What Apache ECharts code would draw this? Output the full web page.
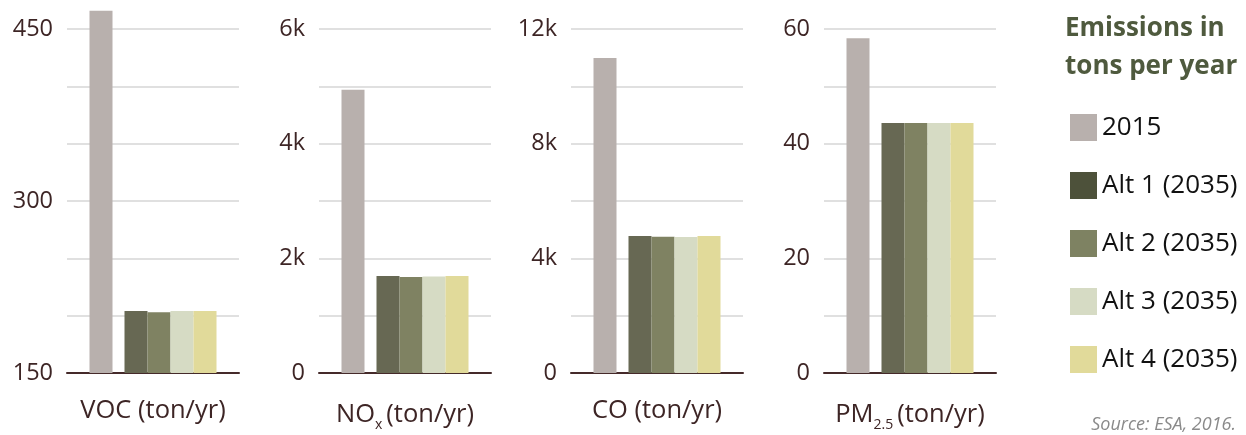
<!DOCTYPE html>
<html>
<head>
<meta charset="utf-8">
<script src="https://cdn.jsdelivr.net/npm/echarts@6/dist/echarts.min.js"></script>
<style>
html,body{margin:0;padding:0;background:#fff;}
#c{width:1246px;height:435px;}
</style>
</head>
<body>
<div id="c"></div>
<script>
// ---- data ----
const pollutants = ['VOC (ton/yr)', 'NOx (ton/yr)', 'CO (ton/yr)', 'PM2.5 (ton/yr)'];
const pollutantLabels = ['VOC (ton/yr)', 'NO{sub|x}(ton/yr)', 'CO (ton/yr)', 'PM{sub|2.5}(ton/yr)'];
const seriesNames = ['2015', 'Alt 1 (2035)', 'Alt 2 (2035)', 'Alt 3 (2035)', 'Alt 4 (2035)'];
const v2015 = [466, 4940, 10990, 58.4];
const alt1 = [204, 1690, 4780, 43.6];
const alt2 = [203, 1675, 4750, 43.6];
const alt3 = [204, 1685, 4740, 43.6];
const alt4 = [204, 1690, 4780, 43.6];
const axisMin = [150, 0, 0, 0];
const axisMax = [450, 6000, 12000, 60];
const axisStep = [50, 1000, 2000, 10];
const tickLabels = [
  [150, 300, 450],
  [0, 2000, 4000, 6000],
  [0, 4000, 8000, 12000],
  [0, 20, 40, 60]
];
const kFormat = [false, true, true, false];

const barColors = ['#b8b0ad', '#676853', '#7f8262', '#d6dbc4', '#e1da9a'];
const legendColors = ['#b8b0ad', '#4d513a', '#7e8262', '#d6dbc4', '#e1da9a'];
const allValues = [v2015, alt1, alt2, alt3, alt4];

const FONT = '"Open Sans", "Noto Sans", sans-serif';
const textCol = '#3d2525';
const gridLefts = [67, 319, 571, 824];

const grids = [], xAxes = [], yAxes = [], series = [];
pollutants.forEach((p, i) => {
  grids.push({left: gridLefts[i], top: 29, width: 172, height: 344, containLabel: false});
  xAxes.push({
    type: 'category', gridIndex: i, data: [p],
    axisLine: {show: true, lineStyle: {color: '#452a2a', width: 2}},
    axisTick: {show: false},
    axisLabel: {
      margin: 25, fontSize: 25.5, color: textCol, fontFamily: FONT,
      formatter: () => pollutantLabels[i],
      rich: {
        sub: {fontSize: 14, color: textCol, fontFamily: FONT, padding: [20, 4, 0, 0]}
      }
    }
  });
  yAxes.push({
    type: 'value', gridIndex: i, min: axisMin[i], max: axisMax[i], interval: axisStep[i],
    startValue: axisMin[i],
    axisLine: {show: false}, axisTick: {show: false},
    splitLine: {show: true, lineStyle: {color: '#e0e0e0', width: 2}},
    axisLabel: {
      margin: 14, fontSize: 23.5, color: textCol, fontFamily: FONT,
      formatter: v => tickLabels[i].includes(v) ? (kFormat[i] && v !== 0 ? (v / 1000) + 'k' : String(v)) : ''
    }
  });
  // 2015 bar
  series.push({
    name: seriesNames[0], type: 'bar', xAxisIndex: i, yAxisIndex: i,
    data: [allValues[0][i]], barWidth: 23, barGap: '0%', clip: false,
    itemStyle: {color: barColors[0]}, silent: true
  });
  // spacer between 2015 and alternatives (draws nothing)
  series.push({
    name: 'spacer', type: 'bar', xAxisIndex: i, yAxisIndex: i,
    data: [null], barWidth: 12, barGap: '0%'
  });
  for (let s = 1; s < seriesNames.length; s++) {
    series.push({
      name: seriesNames[s], type: 'bar', xAxisIndex: i, yAxisIndex: i,
      data: [allValues[s][i]], barWidth: 23, barGap: '0%', clip: false,
      itemStyle: {color: barColors[s]}, silent: true
    });
  }
});

const chart = echarts.init(document.getElementById('c'), null, {renderer: 'canvas'});
chart.setOption({
  animation: false,
  backgroundColor: '#fff',
  grid: grids,
  xAxis: xAxes,
  yAxis: yAxes,
  series: series,
  title: [{
    text: 'Emissions in\ntons per year',
    left: 1060, top: 5,
    textStyle: {fontSize: 26, fontWeight: 'bold', color: '#4f5a3e', fontFamily: FONT, lineHeight: 38}
  }, {
    text: 'Source: ESA, 2016.',
    right: 5, top: 411,
    textStyle: {fontSize: 18, fontStyle: 'italic', fontWeight: 'normal', color: '#8a8a8a', fontFamily: FONT}
  }],
  legend: {
    orient: 'vertical', left: 1065, top: 109,
    itemWidth: 27, itemHeight: 27, itemGap: 31,
    icon: 'rect', selectedMode: false,
    textStyle: {fontSize: 26, lineHeight: 27, color: '#111', fontFamily: FONT, padding: [0, 0, 0, 0]},
    data: seriesNames.map((n, k) => ({name: n, itemStyle: {color: legendColors[k]}}))
  }
});
</script>
</body>
</html>
